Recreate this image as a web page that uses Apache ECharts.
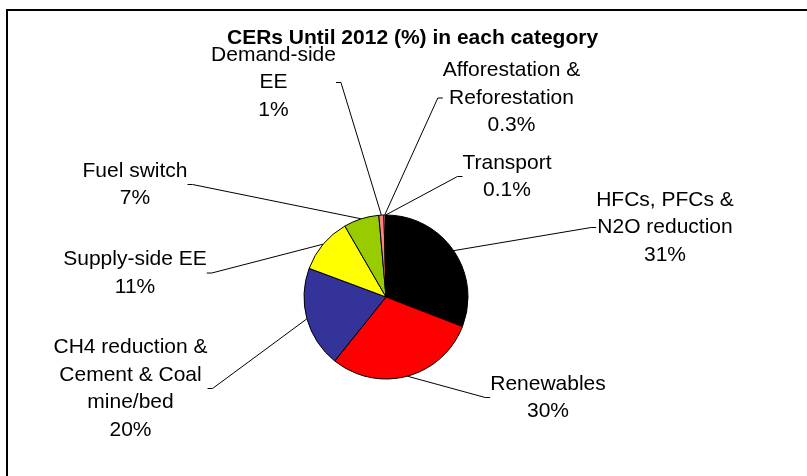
<!DOCTYPE html>
<html>
<head>
<meta charset="utf-8">
<script src="https://cdn.jsdelivr.net/npm/echarts@6/dist/echarts.min.js"></script>
<style>
html,body{margin:0;padding:0;background:#fff;}
#chart{width:807px;height:476px;}
</style>
</head>
<body>
<div id="chart"></div>
<script>
// ---- data ----
var categories = [
  'HFCs, PFCs &\nN2O reduction',
  'Renewables',
  'CH4 reduction &\nCement & Coal\nmine/bed',
  'Supply-side EE',
  'Fuel switch',
  'Demand-side\nEE',
  'Afforestation &\nReforestation',
  'Transport'
];
var shares = [31, 30, 20, 11, 7, 1, 0.3, 0.1];
var titleText = 'CERs Until 2012 (%) in each category';

// ---- styles / layout (not data) ----
var colors = ['#000000', '#FF0000', '#333399', '#FFFF00', '#99CC00', '#FF8080', '#FF99CC', '#CCFFFF'];
var labelCenters = [
  [665, 227.5],
  [548, 397.5],
  [130.5, 388.5],
  [135, 273],
  [135, 184.5],
  [253.5, 82.5],
  [511.5, 98],
  [507, 176.5]
];
// extra left padding on the Demand-side label steers its leader line to the right side
var labelPadding = [0, 0, 0, 0, 0, [0, 0, 0, 40], 0, 0];

var chart = echarts.init(document.getElementById('chart'), null, {renderer: 'canvas'});
var font = "'Liberation Sans', Arial, sans-serif";

var option = {
  animation: false,
  backgroundColor: '#ffffff',
  title: {
    text: titleText,
    left: 227,
    top: 28,
    padding: 0,
    textStyle: {fontFamily: font, fontSize: 21, fontWeight: 'bold', color: '#000'}
  },
  graphic: [{
    type: 'rect',
    shape: {x: 7, y: 10, width: 900, height: 600},
    style: {fill: 'none', stroke: '#000', lineWidth: 2},
    silent: true
  }],
  series: [{
    type: 'pie',
    center: [386, 297],
    radius: 82,
    startAngle: 90,
    clockwise: true,
    avoidLabelOverlap: false,
    silent: true,
    data: categories.map(function (c, i) {
      return {
        name: c,
        value: shares[i],
        itemStyle: {color: colors[i]},
        label: {padding: labelPadding[i]}
      };
    }),
    itemStyle: {borderColor: '#000', borderWidth: 1},
    label: {
      show: true,
      position: 'outside',
      formatter: function (p) { return p.name + '\n' + p.value + '%'; },
      fontFamily: font,
      fontSize: 21,
      lineHeight: 27.5,
      color: '#000',
      align: 'center'
    },
    labelLine: {
      show: true,
      length: 10,
      length2: 5,
      lineStyle: {color: '#000', width: 1}
    },
    labelLayout: function (params) {
      var c = labelCenters[params.dataIndex];
      return {x: c[0], y: c[1], align: 'center', verticalAlign: 'middle'};
    },
    emphasis: {disabled: true}
  }]
};
chart.setOption(option);
</script>
</body>
</html>
